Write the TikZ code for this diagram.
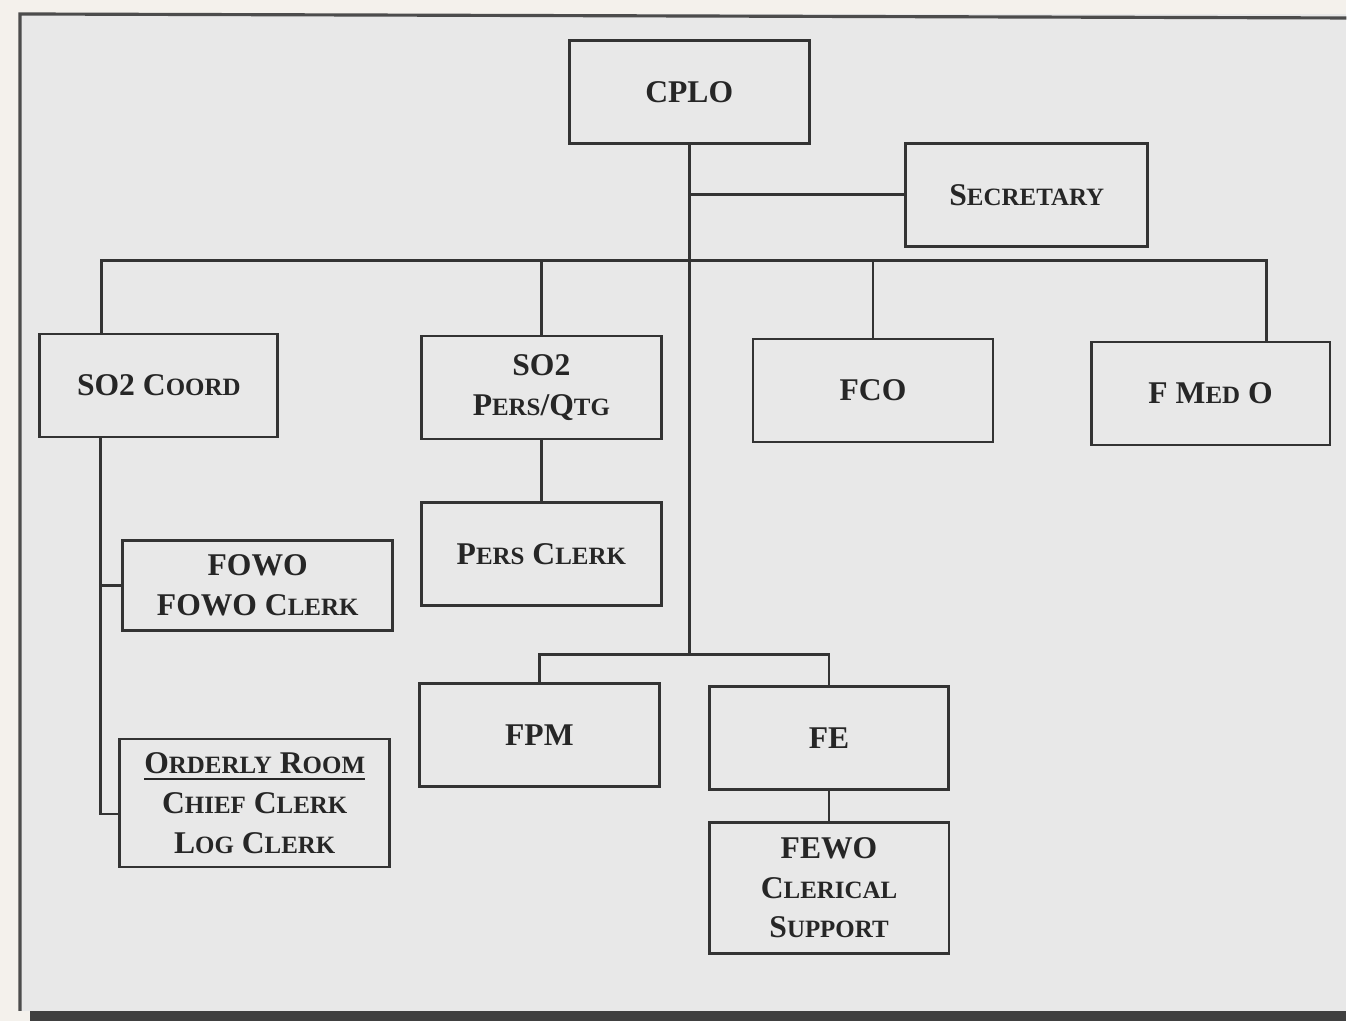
\documentclass[tikz,border=0pt]{standalone}
\usepackage{fontspec}
\setmainfont{Liberation Serif}
\newcommand{\smc}[1]{{\fontsize{7.1}{8}\selectfont #1}}
\definecolor{paper}{RGB}{244,241,236}
\definecolor{screen}{RGB}{232,232,232}
\begin{document}
\begin{tikzpicture}
    [
    x=0.01cm, y=-0.01cm,
    box/.style={draw=black!80,line width=0.8pt,rectangle,inner sep=0pt,minimum width=2.4cm,minimum height=1.03cm,align=center,text=black!85,font=\fontsize{9}{11.3}\selectfont\bfseries},
    link/.style={draw=black!80,line width=0.8pt}
    ]
    \fill[paper] (0,0) rectangle (1348,1022);
    \fill[screen] (20,14) rectangle (1348,1012);
    \fill[black!75] (30,1012) rectangle (1348,1022);
    \draw[black!70,line width=0.9pt] (20,1012) -- (20,14) -- (1348,18);
    \useasboundingbox (0,0) rectangle (1348,1022);
    \node (cplo) at (690,92) [box] {CPLO};
    \node (sec) at (1028,195) [box,minimum width=2.42cm] {S\smc{ECRETARY}};
    \node (coord) at (159,386) [box,minimum width=2.38cm] {SO2 C\smc{OORD}};
    \node (pers) at (542,388) [box] {SO2\\P\smc{ERS}/Q\smc{TG}};
    \node (fco) at (874,391) [box] {FCO};
    \node (fmed) at (1212,394) [box,minimum width=2.39cm] {F M\smc{ED} O};
    \node (fowo) at (258,586) [box,minimum width=2.7cm,minimum height=0.9cm] {FOWO\\FOWO C\smc{LERK}};
    \node (clerk) at (542,555) [box] {P\smc{ERS} C\smc{LERK}};
    \node (fpm) at (540,736) [box] {FPM};
    \node (fe) at (830,739) [box,minimum width=2.39cm] {FE};
    \node (fewo) at (830,889) [box,minimum height=1.31cm] {FEWO\\C\smc{LERICAL}\\S\smc{UPPORT}};
    \node (orderly) at (255,804) [box,minimum width=2.7cm,minimum height=1.28cm] {\underline{O\smc{RDERLY} R\smc{OOM}}\\C\smc{HIEF} C\smc{LERK}\\L\smc{OG} C\smc{LERK}};
    \coordinate (left) at (102,261);
    \coordinate (right) at (1268,261);
    \coordinate (low) at (690,655);
    \coordinate (spine) at (101,815);
    \draw [link] (cplo.south) to (low);
    \draw [link] (cplo.south |- sec.west) to (sec.west);
    \draw [link] (coord.north -| left) -- (left) -- (right) -- (fmed.north -| right);
    \draw [link] (pers.north) to (pers.north |- left);
    \draw [link] (fco.north) to (fco.north |- left);
    \draw [link] (pers.south) to (clerk.north);
    \draw [link] (fpm.north) |- (low) -| (fe.north);
    \draw [link] (fe.south) to (fewo.north);
    \draw [link] (coord.south -| spine) -- (spine) -- (spine -| orderly.west);
    \draw [link] (fowo.west) to (fowo.west -| spine);
  \end{tikzpicture}
\end{document}
